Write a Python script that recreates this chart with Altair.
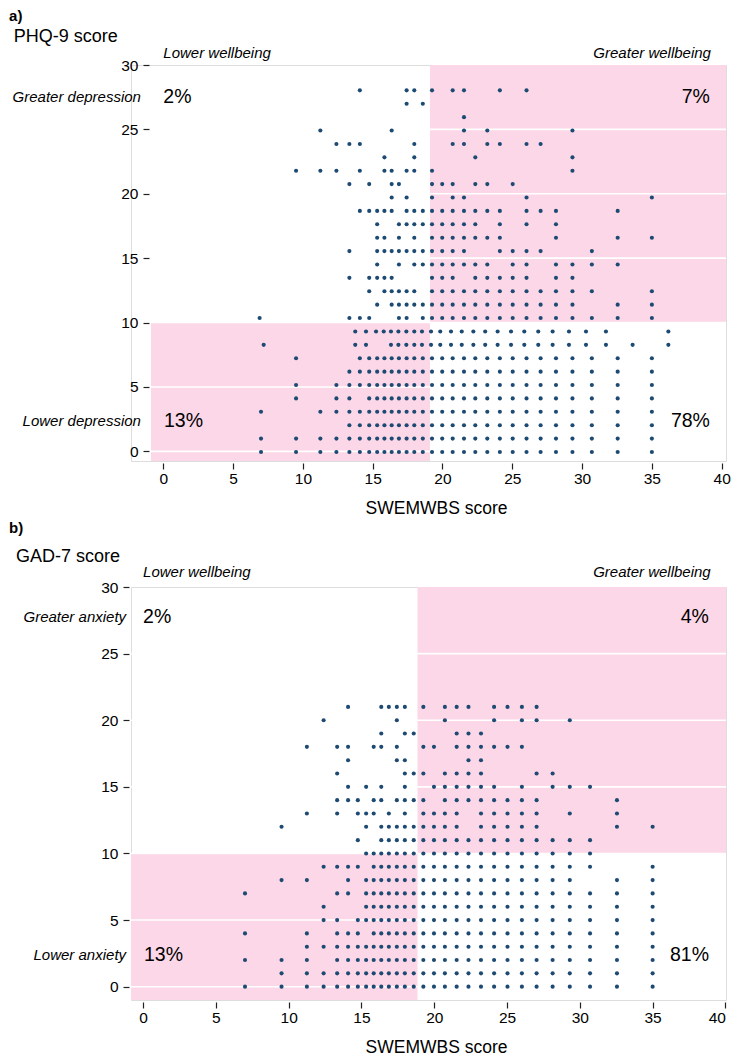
import altair as alt
import pandas as pd

FONT = "Liberation Sans"
PINK = "#FBD7E7"
DOT = "#1D4A72"

# common SWEMWBS levels from 14.08 upward
T = [14.08, 14.75, 15.32, 15.84, 16.36, 16.88, 17.43, 17.98, 18.59, 19.25, 19.98,
     20.73, 21.54, 22.35, 23.21, 24.11, 25.03, 26.02, 27.03, 28.13, 29.31, 30.70,
     32.55, 35.00]

# ---------------- panel a: PHQ-9 rows (x values of SWEMWBS per PHQ score) ----
a0 = [7.00, 9.51, 11.25, 12.40, 13.33] + T
a1 = [7.00, 9.51, 11.25, 12.40, 13.33] + T
a2 = [13.33] + T
a3 = [7.00, 11.25, 12.40, 13.33] + T
a4 = [9.51, 12.40, 13.33] + T[1:]
a5 = [9.51, 12.40, 13.33] + T
a6 = [13.33] + T
a7 = [9.51] + T
a8 = [7.19, 13.75, 14.52, 16.31, 16.84, 17.41, 17.98, 18.53, 19.18, 19.84, 20.61, 21.38,
      22.21, 23.06, 23.95, 24.91, 25.86, 26.86, 27.89, 29.06, 30.28, 31.71, 33.62, 36.18]
a9 = [13.75, 14.52, 15.24, 15.79, 16.31, 16.84, 17.41, 17.98, 18.53, 19.18, 19.84, 20.61,
      21.38, 22.21, 23.06, 23.95, 24.91, 25.86, 26.86, 27.89, 29.06, 30.28, 31.71, 36.18]
a10 = [6.90, 13.33, 14.08, 14.75, 16.88, 17.43, 18.59, 19.25, 19.98, 20.73, 21.54, 22.35,
       23.21, 24.11, 25.03, 26.02, 27.03, 28.13, 29.31, 30.70, 32.55, 35.00]
a11 = [15.32, 16.36, 16.88, 17.43, 17.98, 18.59, 19.25, 19.98, 20.73, 21.54, 22.35, 23.21,
       24.11, 25.03, 26.02, 27.03, 28.13, 29.31, 32.55, 35.00]
a12 = [14.75, 15.84, 16.36, 16.88, 17.43, 17.98, 19.25, 19.98, 20.73, 21.54, 22.35, 23.21,
       24.11, 25.03, 26.02, 27.03, 28.13, 29.31, 30.70, 35.00]
a13 = [13.33, 14.75, 15.32, 15.84, 16.36, 19.25, 19.98, 20.73, 22.35, 23.21, 24.11, 25.03,
       26.02, 28.13, 29.31]
a14 = [15.32, 16.88, 17.98, 18.59, 19.25, 19.98, 20.73, 21.54, 22.35, 23.21, 25.03, 26.02,
       28.13, 29.31, 30.70, 32.55]
a15 = [13.33, 15.32, 15.84, 16.36, 16.88, 17.43, 17.98, 18.59, 19.25, 19.98, 20.73, 21.54,
       24.11, 25.03, 26.02, 27.03, 30.70]
a16 = [15.32, 15.84, 16.88, 17.98, 19.25, 19.98, 20.73, 21.54, 22.35, 23.21, 24.11, 28.13,
       32.55, 35.00]
a17 = [15.32, 16.88, 17.43, 17.98, 18.59, 19.25, 19.98, 20.73, 21.54, 22.35, 24.11, 26.02,
       28.13]
a18 = [14.08, 14.75, 15.32, 15.84, 16.36, 17.43, 17.98, 18.59, 19.25, 19.98, 20.73, 21.54,
       22.35, 23.21, 24.11, 26.02, 27.03, 28.13, 32.55]
a19 = [16.36, 17.43, 19.25, 20.73, 21.54, 26.02, 35.00]
a20 = [13.33, 14.75, 16.36, 16.88, 19.25, 19.98, 20.73, 22.35, 23.21, 25.03]
a21 = [9.51, 11.25, 12.40, 14.08, 15.84, 16.36, 17.43, 17.98, 19.25, 29.31]
a22 = [15.84, 17.98, 22.35, 29.31]
a23 = [12.40, 13.33, 14.08, 17.98, 20.73, 21.54, 23.21, 24.11, 26.02, 27.03]
a24 = [11.25, 16.36, 21.54, 23.21, 29.31]
a25 = [21.54]
a26 = [17.43, 18.59]
a27 = [14.08, 17.43, 17.98, 19.25, 20.73, 21.54, 24.11, 26.02]
A_ROWS = [a0, a1, a2, a3, a4, a5, a6, a7, a8, a9, a10, a11, a12, a13, a14, a15, a16,
          a17, a18, a19, a20, a21, a22, a23, a24, a25, a26, a27]
# plotted height of each PHQ-9 row, as read on the axis of panel a
A_ROW_Y = [-0.05, 0.99, 2.03, 3.07, 4.11, 5.15, 6.19, 7.23, 8.27, 9.31, 10.35, 11.39,
           12.43, 13.47, 14.51, 15.55, 16.59, 17.63, 18.67, 19.71, 20.75, 21.79, 22.83,
           23.87, 24.91, 25.95, 26.99, 28.03]

# ---------------- panel b: GAD-7 rows ----------------
b0 = [7.00, 9.51, 11.25, 12.40, 13.33] + T
b1 = [9.51, 11.25, 12.40, 13.33] + T
b2 = [7.00, 9.51, 11.25, 13.33] + T
b3 = [11.25, 12.40, 13.33] + T
b4 = [7.00, 11.25, 13.33, 14.08, 14.75] + T[3:]
b5 = [12.40, 13.33, 14.75] + T[2:]
b6 = [12.40] + T[2:]
b7 = [7.00, 13.33, 14.08] + T[2:]
b8 = [9.51, 11.25, 14.08] + T[2:21] + [32.55, 35.00]
b9 = [12.40, 13.33, 14.08, 14.75] + T[3:22] + [35.00]
b10 = T[2:22]
b11 = [14.75, 16.36, 16.88, 17.43, 17.98, 18.59, 19.25, 19.98, 20.73, 21.54, 22.35, 23.21,
       24.11, 25.03, 26.02, 27.03, 28.13, 29.31, 30.70]
b12 = [9.51, 15.32, 16.36, 16.88, 17.43, 17.98, 18.59, 19.25, 19.98, 20.73, 21.54, 23.21,
       24.11, 25.03, 26.02, 27.03, 32.55, 35.00]
b13 = [11.25, 13.33, 14.75, 15.32, 15.84, 16.88, 17.98, 19.25, 19.98, 20.73, 21.54, 23.21,
       24.11, 25.03, 26.02, 27.03, 29.31, 32.55]
b14 = [13.33, 14.08, 14.75, 15.84, 16.36, 17.43, 17.98, 18.59, 19.25, 20.73, 21.54, 22.35,
       23.21, 24.11, 25.03, 26.02, 27.03, 32.55]
b15 = [14.08, 15.32, 16.36, 17.98, 19.98, 20.73, 21.54, 22.35, 23.21, 24.11, 26.02, 28.13,
       29.31, 30.70]
b16 = [13.33, 17.98, 18.59, 19.25, 20.73, 21.54, 22.35, 23.21, 27.03, 28.13]
b17 = [14.08, 17.43, 17.98, 22.35, 23.21]
b18 = [11.25, 13.33, 14.08, 15.84, 16.36, 17.43, 19.25, 19.98, 21.54, 22.35, 23.21, 24.11,
       25.03, 26.02]
b19 = [16.36, 17.98, 18.59, 21.54, 22.35, 23.21]
b20 = [12.40, 17.43, 20.73, 24.11, 26.02, 27.03, 29.31]
b21 = [14.08, 16.36, 16.88, 17.43, 17.98, 19.25, 20.73, 21.54, 22.35, 24.11, 25.03, 26.02,
       27.03]
B_ROWS = [b0, b1, b2, b3, b4, b5, b6, b7, b8, b9, b10, b11, b12, b13, b14, b15, b16, b17,
          b18, b19, b20, b21]
B_ROW_Y = list(range(22))

# quadrant shading
A_RECT_X1 = [-0.88, 19.10]
A_RECT_X2 = [19.10, 40.31]
A_RECT_Y1 = [-0.75, 10]
A_RECT_Y2 = [10, 30]
B_RECT_X1 = [-0.831, 18.85]
B_RECT_X2 = [18.85, 40.04]
B_RECT_Y1 = [-1.0, 10]
B_RECT_Y2 = [10, 30]
GRID_Y = [0, 5, 10, 15, 20, 25]
A_GRID_X = [-0.88, 40.31]
B_GRID_X = [-0.831, 40.04]
X_TICKS = [0, 5, 10, 15, 20, 25, 30, 35, 40]
Y_TICKS = [0, 5, 10, 15, 20, 25, 30]

# annotations: (text, x, y)
A_TAG = [("a)", -11.05, 33.8)]
A_YTITLE = [("PHQ-9 score", -10.72, 32.2)]
A_ITAL_L = [("Lower wellbeing", 0.0, 30.9)]
A_ITAL_R = [("Greater wellbeing", 39.23, 30.9), ("Greater depression", -1.6, 27.5),
            ("Lower depression", -1.6, 2.35)]
A_PCT_L = [("2%", 0.0, 27.5), ("13%", 0.05, 2.35)]
A_PCT_R = [("7%", 39.16, 27.5), ("78%", 39.16, 2.35)]

B_TAG = [("b)", -9.21, 34.41)]
B_YTITLE = [("GAD-7 score", -8.73, 32.24)]
B_ITAL_L = [("Lower wellbeing", 0.0, 31.1)]
B_ITAL_R = [("Greater wellbeing", 38.99, 31.1), ("Greater anxiety", -1.17, 27.77),
            ("Lower anxiety", -1.17, 2.38)]
B_PCT_L = [("2%", 0.0, 27.77), ("13%", 0.06, 2.38)]
B_PCT_R = [("4%", 38.87, 27.77), ("81%", 38.87, 2.38)]


def rows_to_df(rows, row_y):
    recs = []
    for ry, xs in zip(row_y, rows):
        for xv in xs:
            recs.append({"x": xv, "y": ry})
    return pd.DataFrame(recs)


def tdf(items):
    return pd.DataFrame([{"t": t, "x": x, "y": y} for t, x, y in items])


def panel(rows, row_y, rx1, rx2, ry1, ry2, gx, xdom, ydom, w, h, yoff, texts):
    xs = alt.Scale(domain=xdom, nice=False, zero=False)
    ys = alt.Scale(domain=ydom, nice=False, zero=False)
    xaxis = alt.Axis(values=X_TICKS, domain=False, grid=False, offset=2, tickSize=6,
                     tickColor="#222", tickWidth=1.2, labelPadding=2, labelFont=FONT,
                     labelFontSize=15.5, labelColor="black", title="SWEMWBS score",
                     titleFont=FONT, titleFontSize=17.5, titleFontWeight="normal",
                     titleColor="black", titlePadding=13, titleX=305)
    yaxis = alt.Axis(values=Y_TICKS, domain=False, grid=False, offset=yoff, tickSize=6,
                     tickColor="#222", tickWidth=1.2, labelPadding=5, labelFont=FONT,
                     labelFontSize=15.5, labelColor="black", title=None)
    rdf = pd.DataFrame({"x1": rx1, "x2": rx2, "y1": ry1, "y2": ry2})
    rect = alt.Chart(rdf).mark_rect(color=PINK).encode(
        x=alt.X("x1:Q", scale=xs, axis=xaxis), x2="x2:Q",
        y=alt.Y("y1:Q", scale=ys, axis=yaxis), y2="y2:Q")
    gdf = pd.DataFrame({"g": GRID_Y, "gx1": [gx[0]] * len(GRID_Y),
                        "gx2": [gx[1]] * len(GRID_Y)})
    grid = alt.Chart(gdf).mark_rule(color="white", strokeWidth=1.6).encode(
        y=alt.Y("g:Q"), x=alt.X("gx1:Q"), x2="gx2:Q")
    pts = alt.Chart(rows_to_df(rows, row_y)).mark_circle(
        size=17, color=DOT, opacity=1).encode(x="x:Q", y="y:Q")
    tag, ytitle, ital_l, ital_r, pct_l, pct_r = texts
    layers = [rect, grid, pts]
    layers.append(alt.Chart(tdf(tag)).mark_text(
        font=FONT, fontSize=15, fontWeight="bold", align="left", baseline="middle",
        color="black").encode(x="x:Q", y="y:Q", text="t:N"))
    layers.append(alt.Chart(tdf(ytitle)).mark_text(
        font=FONT, fontSize=18, align="left", baseline="middle",
        color="black").encode(x="x:Q", y="y:Q", text="t:N"))
    layers.append(alt.Chart(tdf(ital_l)).mark_text(
        font=FONT, fontSize=15, fontStyle="italic", align="left", baseline="middle",
        color="black").encode(x="x:Q", y="y:Q", text="t:N"))
    layers.append(alt.Chart(tdf(ital_r)).mark_text(
        font=FONT, fontSize=15, fontStyle="italic", align="right", baseline="middle",
        color="black").encode(x="x:Q", y="y:Q", text="t:N"))
    layers.append(alt.Chart(tdf(pct_l)).mark_text(
        font=FONT, fontSize=19.5, align="left", baseline="middle",
        color="black").encode(x="x:Q", y="y:Q", text="t:N"))
    layers.append(alt.Chart(tdf(pct_r)).mark_text(
        font=FONT, fontSize=19.5, align="right", baseline="middle",
        color="black").encode(x="x:Q", y="y:Q", text="t:N"))
    return alt.layer(*layers).properties(width=w, height=h)


pa = panel(A_ROWS, A_ROW_Y, A_RECT_X1, A_RECT_X2, A_RECT_Y1, A_RECT_Y2, A_GRID_X,
           [-2.314, 40.31], [-0.75, 30], 595, 396, -18,
           (A_TAG, A_YTITLE, A_ITAL_L, A_ITAL_R, A_PCT_L, A_PCT_R))
pb = panel(B_ROWS, B_ROW_Y, B_RECT_X1, B_RECT_X2, B_RECT_Y1, B_RECT_Y2, B_GRID_X,
           [-0.831, 40.04], [-1.0, 30], 595, 413, 2,
           (B_TAG, B_YTITLE, B_ITAL_L, B_ITAL_R, B_PCT_L, B_PCT_R))

chart = alt.vconcat(pa, pb, spacing=2).properties(padding=0).configure_view(
    strokeWidth=0).configure(background="white")

chart.save("out.html", embed_options={"renderer": "svg", "actions": False})
